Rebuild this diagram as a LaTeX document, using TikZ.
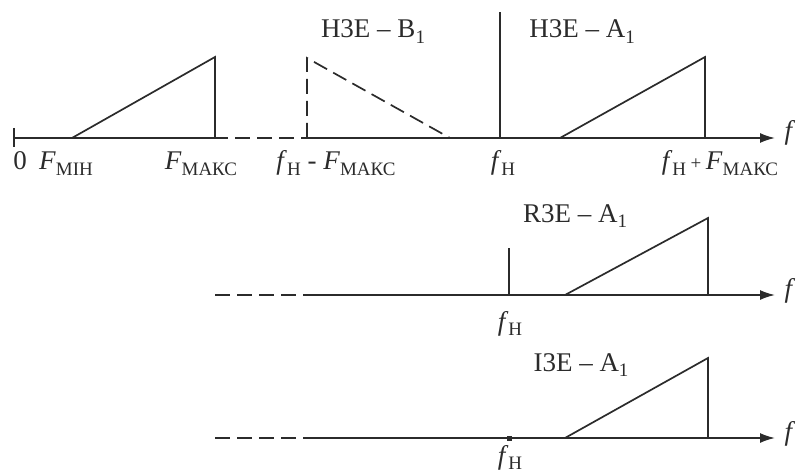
\documentclass[tikz,border=0pt]{standalone}
\usepackage{fontspec}
\setmainfont{Liberation Serif}
\usetikzlibrary{arrows.meta}
\definecolor{ink}{HTML}{2B2B2B}
\newcommand\lowsub[1]{\raisebox{-0.22em}{\fontsize{19}{19}\selectfont #1}}
\newcommand\fH{\textit{f}\lowsub{Н}}
\newcommand\Fmax{\textit{F}\lowsub{МАКС}}
\begin{document}
\begin{tikzpicture}[x=1pt,y=-1pt,line width=1.7pt,
  ln/.style={draw=ink},
  dsh/.style={draw=ink,dash pattern=on 15pt off 7pt},
  arr/.style={draw=ink,-{Latex[length=15pt,width=10pt]}},
  lbl/.style={anchor=base,inner sep=0pt,font=\fontsize{27}{30}\selectfont,text=ink}]
\useasboundingbox (0,0) rectangle (798,476);

% ---------- top axis ----------
\coordinate (t0) at (14,138);
\coordinate (t1) at (228,138);
\coordinate (t2a) at (235,138);
\coordinate (t2) at (307,138);
\coordinate (tend) at (775,138);
\draw[ln] (14,128) -- (14,147);
\draw[ln] (t0) -- (t1);
\draw[dsh] (t2a) -- (t2);
\draw[arr] (t2) -- (tend);
% baseband triangle
\coordinate (a1) at (72,138); \coordinate (a2) at (215,57); \coordinate (a3) at (215,138);
\draw[ln] (a1) -- (a2) -- (a3);
% suppressed lower sideband (dashed)
\coordinate (b1) at (307,138); \coordinate (b2) at (307,58); \coordinate (b3) at (450,138);
\draw[dsh] (b1) -- (b2) -- (b3);
% carrier
\coordinate (c1) at (500,138); \coordinate (c2) at (500,12);
\draw[ln] (c1) -- (c2);
% upper sideband
\coordinate (u1) at (560,138); \coordinate (u2) at (705,57); \coordinate (u3) at (705,138);
\draw[ln] (u1) -- (u2) -- (u3);

\node[lbl] (l0) at (20,170) {0};
\node[lbl] (lfmin) at (66,170) {\textit{F}\lowsub{МІН}};
\node[lbl] (lfmax) at (201,170) {\Fmax};
\node[lbl] (lfdiff) at (336,170) {\fH\ - \Fmax};
\node[lbl] (lfh) at (503,170) {\fH};
\node[lbl] (lfsum) at (720,170) {\fH\,{\fontsize{19}{19}\selectfont +}\,\Fmax};
\node[lbl] (lf1) at (790,140) {\textit{f}};
\node[lbl] (lb) at (373,38) {H3E – B\lowsub{1}};
\node[lbl] (la) at (582,38) {H3E – A\lowsub{1}};

% ---------- second axis ----------
\coordinate (s0) at (215,295);
\coordinate (s1) at (305,295);
\coordinate (send) at (775,295);
\draw[dsh] (s0) -- (s1);
\draw[arr] (s1) -- (send);
\coordinate (sc1) at (509,295); \coordinate (sc2) at (509,248);
\draw[ln] (sc1) -- (sc2);
\coordinate (su1) at (565,295); \coordinate (su2) at (708,218); \coordinate (su3) at (708,295);
\draw[ln] (su1) -- (su2) -- (su3);
\node[lbl] (lr) at (575,222) {R3E – A\lowsub{1}};
\node[lbl] (lfh2) at (510,330) {\fH};
\node[lbl] (lf2) at (790,297) {\textit{f}};

% ---------- third axis ----------
\coordinate (r0) at (215,438);
\coordinate (r1) at (305,438);
\coordinate (rend) at (775,438);
\draw[dsh] (r0) -- (r1);
\draw[arr] (r1) -- (rend);
\fill[ink] (506.5,435.5) rectangle (511.5,440.5);
\coordinate (ru1) at (565,438); \coordinate (ru2) at (708,358); \coordinate (ru3) at (708,438);
\draw[ln] (ru1) -- (ru2) -- (ru3) -- cycle;
\node[lbl] (li) at (581,371) {I3E – A\lowsub{1}};
\node[lbl] (lfh3) at (510,464) {\fH};
\node[lbl] (lf3) at (790,440) {\textit{f}};
\end{tikzpicture}
\end{document}
